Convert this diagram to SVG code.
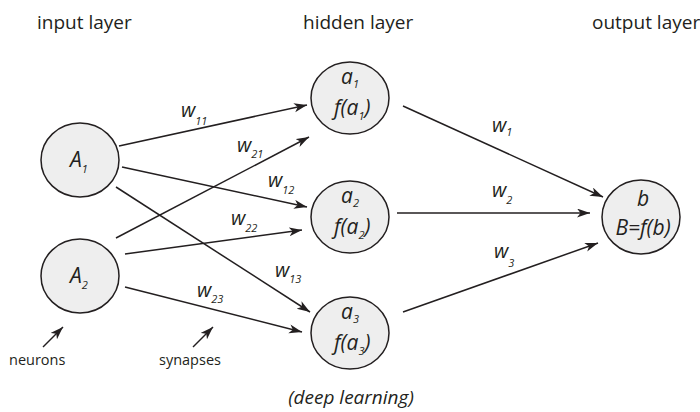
<svg xmlns="http://www.w3.org/2000/svg" width="700" height="412" viewBox="0 0 700 412">
<defs>
<style>
text{font-family:"Open Sans","Liberation Sans",sans-serif;fill:#231f20}
.h{font-size:19px}
.s{font-size:14.5px}
.it{font-style:italic}
.nl{font-size:21px;font-style:italic}
.wl{font-size:20px;font-style:italic}
.sub{font-size:11px}
.node{fill:#eeeeee;stroke:#231f20;stroke-width:1.5}
.edge{stroke:#231f20;stroke-width:1.5;fill:none;marker-end:url(#ah)}
</style>
<marker id="ah" markerUnits="userSpaceOnUse" markerWidth="14" markerHeight="10" refX="13" refY="4.5" orient="auto">
<path d="M0,0 L13,4.5 L0,9 L3.5,4.5 z" fill="#231f20"/>
</marker>
</defs>
<rect width="700" height="412" fill="#ffffff"/>
<g id="headings">
<text class="h" x="37" y="29">input layer</text>
<text class="h" x="303" y="29">hidden layer</text>
<text class="h" x="592" y="29">output layer</text>
</g>
<g id="connectors">
<line class="edge" x1="119" y1="146" x2="307" y2="105"/>
<line class="edge" x1="116" y1="238" x2="309" y2="137"/>
<line class="edge" x1="122" y1="167" x2="307" y2="207"/>
<line class="edge" x1="125" y1="254" x2="302" y2="230"/>
<line class="edge" x1="116" y1="187" x2="310" y2="312"/>
<line class="edge" x1="125" y1="287" x2="302" y2="332"/>
<line class="edge" x1="403" y1="106" x2="603" y2="197"/>
<line class="edge" x1="397" y1="213" x2="590" y2="213"/>
<line class="edge" x1="403" y1="312" x2="598" y2="243"/>
<line class="edge" x1="43" y1="347" x2="63" y2="327"/>
<line class="edge" x1="193" y1="347" x2="213" y2="327"/>
</g>
<g id="weights">
<text class="wl" x="181" y="117">w<tspan class="sub" dy="8">11</tspan></text>
<text class="wl" x="237" y="152">w<tspan class="sub" dy="6">21</tspan></text>
<text class="wl" x="268" y="187">w<tspan class="sub" dy="7">12</tspan></text>
<text class="wl" x="231" y="225">w<tspan class="sub" dy="7">22</tspan></text>
<text class="wl" x="275" y="277">w<tspan class="sub" dy="6">13</tspan></text>
<text class="wl" x="197" y="297">w<tspan class="sub" dy="6">23</tspan></text>
<text class="wl" x="492" y="132">w<tspan class="sub" dy="4">1</tspan></text>
<text class="wl" x="492" y="197">w<tspan class="sub" dy="7">2</tspan></text>
<text class="wl" x="494" y="258">w<tspan class="sub" dy="9">3</tspan></text>
</g>
<g id="A1">
<ellipse class="node" cx="80" cy="160" rx="39" ry="37"/>
<text class="nl" x="70" y="167">A<tspan class="sub" dy="6">1</tspan></text>
</g>
<g id="A2">
<ellipse class="node" cx="80" cy="276" rx="39" ry="37"/>
<text class="nl" x="70" y="283">A<tspan class="sub" dy="6">2</tspan></text>
</g>
<g id="a1">
<ellipse class="node" cx="350" cy="98" rx="39" ry="36"/>
<text class="nl" x="341" y="84">a<tspan class="sub" dy="4">1</tspan></text>
<text class="nl" x="334" y="115">f(a<tspan class="sub" dy="5">1</tspan><tspan dy="-5">)</tspan></text>
</g>
<g id="a2">
<ellipse class="node" cx="350" cy="217" rx="39" ry="36"/>
<text class="nl" x="341" y="203">a<tspan class="sub" dy="4">2</tspan></text>
<text class="nl" x="334" y="234">f(a<tspan class="sub" dy="5">2</tspan><tspan dy="-5">)</tspan></text>
</g>
<g id="a3">
<ellipse class="node" cx="350" cy="333" rx="39" ry="36"/>
<text class="nl" x="341" y="319">a<tspan class="sub" dy="4">3</tspan></text>
<text class="nl" x="334" y="350">f(a<tspan class="sub" dy="5">3</tspan><tspan dy="-5">)</tspan></text>
</g>
<g id="b">
<ellipse class="node" cx="641" cy="217" rx="39" ry="37"/>
<text class="nl" x="643" y="206" text-anchor="middle">b</text>
<text class="nl" x="643" y="235" text-anchor="middle">B=f(b)</text>
</g>
<g id="notes">
<text class="s" x="9" y="365">neurons</text>
<text class="s" x="159" y="365">synapses</text>
<text class="h it" x="351" y="404" text-anchor="middle">(deep learning)</text>
</g>
</svg>
